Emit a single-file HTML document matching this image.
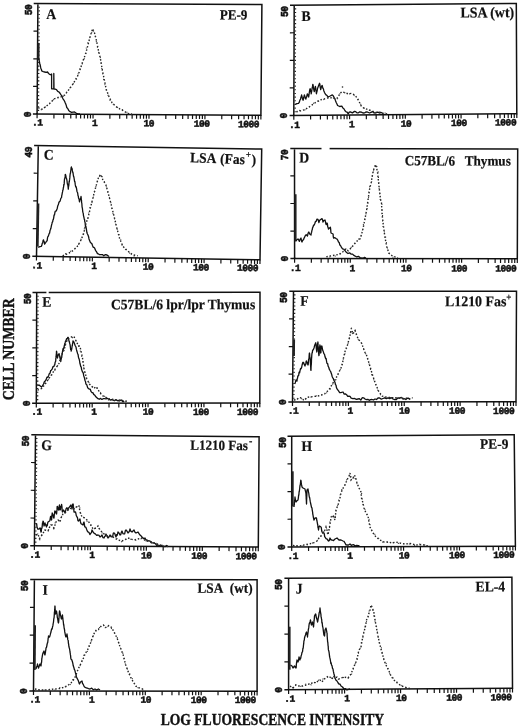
<!DOCTYPE html>
<html><head><meta charset="utf-8"><title>Flow cytometry histograms</title>
<style>
html,body{margin:0;padding:0;background:#fff;}
svg{display:block;filter:grayscale(1);}
.bx{fill:none;stroke:#111;stroke-width:1.5;stroke-linejoin:miter;}
.tk{fill:none;stroke:#111;stroke-width:1.2;}
.mt{fill:none;stroke:#222;stroke-width:1.1;}
.sp{fill:none;stroke:#222;stroke-width:2.0;}
.so{fill:none;stroke:#111;stroke-width:1.3;stroke-linejoin:round;}
.do2{fill:none;stroke:#333;stroke-width:1.1;stroke-dasharray:1 4.5;stroke-dashoffset:2;}
.do{fill:none;stroke:#222;stroke-width:1.4;stroke-dasharray:1.5 1.9;}
.zd{fill:#111;}
.n{font-family:"Liberation Mono",monospace;font-weight:bold;font-size:9.6px;letter-spacing:-0.5px;fill:#111;stroke:#111;stroke-width:0.5px;}
.l{font-family:"Liberation Serif",serif;font-weight:bold;font-size:13.7px;fill:#111;stroke:#111;stroke-width:0.2px;}
.sup{font-size:9px;}
.t{font-family:"Liberation Serif",serif;font-weight:bold;font-size:13.45px;fill:#111;stroke:#111;stroke-width:0.35px;}
</style></head>
<body><svg width="520" height="727" viewBox="0 0 520 727">
<rect width="520" height="727" fill="#fff"/>
<g id="pA"><path d="M33.7 3.48L261.9 4.5L260.9 115.2L32.9 114.08M37.9 3.5L37.1 114.1" class="bx"/>
<path d="M33.5 31.13L37.7 31.15M33.3 58.78L37.5 58.8M33.1 86.43L37.3 86.45M37.1 114.1l-0.02 4.2M53.94 114.18l-0.02 4.2M63.79 114.23l-0.02 4.2M70.79 114.27l-0.02 4.2M76.21 114.29l-0.02 4.2M80.64 114.31l-0.02 4.2M84.38 114.33l-0.02 4.2M87.63 114.35l-0.02 4.2M90.49 114.36l-0.02 4.2M93.05 114.37l-0.02 4.2M109.89 114.46l-0.02 4.2M119.74 114.51l-0.02 4.2M126.74 114.54l-0.02 4.2M132.16 114.57l-0.02 4.2M136.59 114.59l-0.02 4.2M140.33 114.61l-0.02 4.2M143.58 114.62l-0.02 4.2M146.44 114.64l-0.02 4.2M149 114.65l-0.02 4.2M165.84 114.73l-0.02 4.2M175.69 114.78l-0.02 4.2M182.69 114.82l-0.02 4.2M188.11 114.84l-0.02 4.2M192.54 114.86l-0.02 4.2M196.28 114.88l-0.02 4.2M199.53 114.9l-0.02 4.2M202.39 114.91l-0.02 4.2M204.95 114.93l-0.02 4.2M221.79 115.01l-0.02 4.2M231.64 115.06l-0.02 4.2M238.64 115.09l-0.02 4.2M244.06 115.12l-0.02 4.2M248.49 115.14l-0.02 4.2M252.23 115.16l-0.02 4.2M255.48 115.17l-0.02 4.2M258.34 115.19l-0.02 4.2M260.9 115.2l-0.02 4.2" class="tk"/>
<path d="M38.47 7.19h1.4M38.45 10.87h1.4M38.42 14.56h1.4M38.39 18.25h1.4M38.37 21.93h1.4M38.34 25.62h1.4M38.31 29.31h1.4M38.29 32.99h1.4M38.26 36.68h1.4M38.23 40.37h1.4M38.21 44.05h1.4M38.18 47.74h1.4M38.15 51.43h1.4M38.13 55.11h1.4M38.1 58.8h1.4M38.07 62.49h1.4M38.05 66.17h1.4M38.02 69.86h1.4M37.99 73.55h1.4M37.97 77.23h1.4M37.94 80.92h1.4M37.91 84.61h1.4M37.89 88.29h1.4M37.86 91.98h1.4M37.83 95.67h1.4M37.81 99.35h1.4M37.78 103.04h1.4M37.75 106.73h1.4M37.73 110.41h1.4" class="mt"/>
<path d="M38.61 43L38.49 60" class="sp"/>
<path class="so" d="M38.8 58.5L39.05 59.91L39.3 61.18L39.55 62.4L39.8 64L40.2 64.87L40.6 67.14L41 68.78L41.4 69.49L41.8 71L43.25 71.66L44.7 72L46.1 72.37L47.5 72L48.47 73.37L49.43 74.18L50.4 74.8L51.6 74L51.6 75.12L51.6 76.84L51.6 78.1L51.6 79.41L51.6 80.17L51.6 82.37L51.6 83.14L51.6 85.25L51.6 86.56L51.6 87.3L51.6 88.8L53.8 88.8L53.8 87.3L53.8 85.5L53.8 84.53L53.8 83.17L53.8 81.26L53.8 80.13L53.8 79.04L53.8 77.16L53.8 75.82L53.8 74.42L53.8 73.5L53.82 74.78L53.84 76.91L53.85 77.46L53.87 78.57L53.89 81.13L53.91 82.11L53.93 83.29L53.95 84.48L53.96 86.71L53.98 87.51L54 89L55.2 89.2L56.47 89.57L57.73 91.36L59 92L60 93.24L61 94.88L62 96L62.5 97.64L63 98.8L63.9 100.04L64.8 101.7L65.3 103.06L65.8 104.11L66.3 105.58L66.8 107.5L67.75 108.57L68.7 110.4L70.15 111.66L71.6 112.3L73.05 112.05L74.5 112L76.4 113.3L78.2 113.87L80 113.8"/>
<path class="do" d="M38.2 107.5L39.8 108.5L42.7 109.4L45.6 106.5L48.5 104.6L51.4 101.7L54.3 98.8L57.2 97.9L61 96.9L64.8 95L67.7 91.2L70.6 87.3L73.5 83.5L75.4 79.6L77.3 76.7L79.3 71.9L81.2 66.2L83.1 60.4L85 55.6L87 48.8L88.9 41.2L90.8 34.4L92.7 28.7L94.7 33.5L96.6 41.2L98.5 50.8L100.4 58.5L102.3 70L104.3 79.6L106.2 89.2L109.1 96.9L112 102.7L115.8 106.5L119.7 108.8L123.5 110.8L127.3 113.3L132 114"/>
<path class="do2" d="M37.79 107.82L39.88 109.31L42.63 110.12L46.13 106.19L48.17 104.87L50.75 102.68L53.71 99.48L56.6 97.17L61.55 97.4L64.65 95.44L67.41 90.61L70.4 87.42L73.09 83.68L76.19 79.85L77.66 76.97L78.68 70.9L81.29 66.87L83.81 59.82L85.77 55.17L86.34 47.81L88.68 40.09L91.09 34.79L92.6 29.24L95.04 34.3L96.21 41.14L98.35 51.58L100.69 58.66L101.98 69.65L103.61 79.85L105.73 88.37L108.97 97.79L111.26 103.43L115.8 105.33L118.95 109.06L124.02 109.75L128.01 113.04L132.04 114.94"/>
<g transform="rotate(0.26 37.1 114.1)"><text x="31.94" y="125.45" class="n">.1</text></g>
<g transform="rotate(0.26 93.05 114.37)"><text x="91.96" y="125.92" class="n">1</text></g>
<g transform="rotate(0.26 149 114.65)"><text x="143.56" y="126.4" class="n">10</text><circle cx="151.7" cy="123.18" r="0.75" class="zd"/></g>
<g transform="rotate(0.26 204.95 114.93)"><text x="193.87" y="126.88" class="n">100</text><circle cx="202.01" cy="123.66" r="0.75" class="zd"/><circle cx="207.27" cy="123.66" r="0.75" class="zd"/></g>
<g transform="rotate(0.26 260.9 115.2)"><text x="238.08" y="127.35" class="n">1000</text><circle cx="246.22" cy="124.13" r="0.75" class="zd"/><circle cx="251.48" cy="124.13" r="0.75" class="zd"/><circle cx="256.74" cy="124.13" r="0.75" class="zd"/></g>
<g transform="translate(31.7 0) rotate(-90) scale(1 1.15)"><text x="-15.32" y="0" class="n">50</text><circle cx="-7.18" cy="-3.22" r="0.75" class="zd"/></g>
<g transform="translate(30.6 0) rotate(-90) scale(1 1.15)"><text x="-117.13" y="0" class="n">0</text><circle cx="-114.25" cy="-3.22" r="0.75" class="zd"/></g>
<text x="46.3" y="19.1" class="l" transform="rotate(0.26 46.3 19.1) translate(0 -1.34) scale(1 1.07)">A</text>
<text x="247.4" y="19.6" class="l" style="font-size:13.16px" text-anchor="end" transform="rotate(0.26 247.4 19.6) translate(0 -1.37) scale(1 1.07)">PE-9</text></g>
<g id="pB"><path d="M290 5.23L516.3 3.4L516.8 113.8L289.6 115.53M294.2 5.2L293.8 115.5" class="bx"/>
<path d="M289.9 32.81L294.1 32.77M289.8 60.38L294 60.35M289.7 87.96L293.9 87.92M293.8 115.5l0.03 4.2M310.58 115.37l0.03 4.2M320.4 115.3l0.03 4.2M327.36 115.24l0.03 4.2M332.77 115.2l0.03 4.2M337.18 115.17l0.03 4.2M340.91 115.14l0.03 4.2M344.15 115.12l0.03 4.2M347 115.09l0.03 4.2M349.55 115.08l0.03 4.2M366.33 114.95l0.03 4.2M376.15 114.87l0.03 4.2M383.11 114.82l0.03 4.2M388.52 114.78l0.03 4.2M392.93 114.74l0.03 4.2M396.66 114.72l0.03 4.2M399.9 114.69l0.03 4.2M402.75 114.67l0.03 4.2M405.3 114.65l0.03 4.2M422.08 114.52l0.03 4.2M431.9 114.45l0.03 4.2M438.86 114.39l0.03 4.2M444.27 114.35l0.03 4.2M448.68 114.32l0.03 4.2M452.41 114.29l0.03 4.2M455.65 114.27l0.03 4.2M458.5 114.24l0.03 4.2M461.05 114.22l0.03 4.2M477.83 114.1l0.03 4.2M487.65 114.02l0.03 4.2M494.61 113.97l0.03 4.2M500.02 113.93l0.03 4.2M504.43 113.89l0.03 4.2M508.16 113.87l0.03 4.2M511.4 113.84l0.03 4.2M514.25 113.82l0.03 4.2M516.8 113.8l0.03 4.2" class="tk"/>
<path d="M294.79 8.88h1.4M294.77 12.55h1.4M294.76 16.23h1.4M294.75 19.91h1.4M294.73 23.58h1.4M294.72 27.26h1.4M294.71 30.94h1.4M294.69 34.61h1.4M294.68 38.29h1.4M294.67 41.97h1.4M294.65 45.64h1.4M294.64 49.32h1.4M294.63 53h1.4M294.61 56.67h1.4M294.6 60.35h1.4M294.59 64.03h1.4M294.57 67.7h1.4M294.56 71.38h1.4M294.55 75.06h1.4M294.53 78.73h1.4M294.52 82.41h1.4M294.51 86.09h1.4M294.49 89.76h1.4M294.48 93.44h1.4M294.47 97.12h1.4M294.45 100.79h1.4M294.44 104.47h1.4M294.43 108.15h1.4M294.41 111.82h1.4" class="mt"/>
<path class="so" d="M295.3 104.4L296.9 103.57L298.5 103.4L299.2 102.47L299.9 100.14L300.6 99.1L300.93 97.12L301.27 96.67L301.6 94.9L301.98 96.8L302.35 98.06L302.73 99.42L303.1 100.2L303.43 99.16L303.75 96.94L304.07 96.18L304.4 94.9L304.9 96.51L305.4 98.49L305.9 99.1L306.25 97.4L306.6 97.09L306.95 95.37L307.3 93.8L307.95 94.83L308.6 97L308.85 95.83L309.1 93.87L309.35 92.24L309.6 90.72L309.85 89.37L310.1 88.6L310.38 89.58L310.65 91.6L310.93 91.72L311.2 93.8L311.43 92.44L311.66 91.53L311.89 89.95L312.11 88.32L312.34 87.08L312.57 86.42L312.8 84.3L313.1 85.07L313.4 87.28L313.7 89.12L314 90.63L314.3 91.7L314.57 89.72L314.85 89.59L315.12 87.1L315.4 86.4L315.6 87.23L315.8 89.39L316 90.38L316.2 92L316.4 93.8L316.77 92.08L317.15 90.73L317.52 88.45L317.9 87.5L318.47 86.11L319.03 84.37L319.6 83.3L319.88 84.33L320.15 87.05L320.43 88.07L320.7 89.6L321.2 87.54L321.7 86.07L322.2 85.4L322.6 87.11L323 88.46L323.4 88.76L323.8 90.7L324.53 92.42L325.27 93.92L326 94.9L327.05 95.56L328.1 97L330.2 96L332.3 94.9L333.35 96.06L334.4 98.1L334.97 98.85L335.53 100.72L336.1 102.3L336.85 103.71L337.6 105.5L339.7 106.5L341.8 106.1L342.85 107.9L343.9 108.7L345 110.76L346.1 111.8L347.15 112.12L348.2 113.9L349.25 112.19L350.3 111.8L352.4 112.9L354.5 111.4L355.75 111.71L357 112.9L358.4 112.85L359.8 111.8L361.4 112.14L363 113L364.6 112.94L366.2 111.8L367.85 112.23L369.5 113L371 112.39L372.5 111.6L374 112.93L375.5 113L377.15 112.23L378.8 112.5L380.2 112.26L381.6 112.69L383 113.5"/>
<path class="do" d="M296.3 111.8L300.6 110.8L304.8 109.7L308 107.6L311.2 105.5L314.3 103.4L317.5 101.3L320.7 99.8L323.8 99.1L327 98.1L330.2 97.7L333.4 98.1L336.1 99.1L338.2 97L339.7 93.8L341.8 91.7L345 92.8L348.2 93.8L351.3 93.4L354.5 94.9L357.3 98.1L359.4 102.3L361.5 106.5L364 108.2L368.3 109.7L372.5 111.2L376.7 112.5L381 112.9L387.3 114"/>
<circle cx="342.5" cy="87" r="0.8" fill="#222"/>
<path class="do2" d="M295.74 111.43L301.28 109.84L304.69 109.94L307.55 108.06L311.76 105.52L314.03 102.58L317.24 101.69L321.49 100.44L324.15 99.45L326.21 97.08L329.49 98.52L333.13 97.97L336.66 100.08L338.81 97.12L340.07 93.18L341.48 92.5L345.18 92.89L347.46 94.7L350.9 93.32L354.37 95.82L356.65 97.64L359.42 101.92L362.07 106.48L363.25 107.93L368.16 109.46L372.78 112.14L376.83 113.2L381.24 112.44L386.8 113.28"/>
<g transform="rotate(-0.46 293.8 115.5)"><text x="288.94" y="127.9" class="n">.1</text></g>
<g transform="rotate(-0.46 349.55 115.08)"><text x="348.94" y="127.28" class="n">1</text></g>
<g transform="rotate(-0.46 405.3 114.65)"><text x="400.54" y="126.65" class="n">10</text><circle cx="408.68" cy="123.43" r="0.75" class="zd"/></g>
<g transform="rotate(-0.46 461.05 114.22)"><text x="450.83" y="126.03" class="n">100</text><circle cx="458.97" cy="122.81" r="0.75" class="zd"/><circle cx="464.23" cy="122.81" r="0.75" class="zd"/></g>
<g transform="rotate(-0.46 516.8 113.8)"><text x="495.03" y="125.4" class="n">1000</text><circle cx="503.17" cy="122.18" r="0.75" class="zd"/><circle cx="508.43" cy="122.18" r="0.75" class="zd"/><circle cx="513.69" cy="122.18" r="0.75" class="zd"/></g>
<g transform="translate(288 0) rotate(-90) scale(1 1.15)"><text x="-17.02" y="0" class="n">50</text><circle cx="-8.88" cy="-3.22" r="0.75" class="zd"/></g>
<g transform="translate(287.3 0) rotate(-90) scale(1 1.15)"><text x="-118.53" y="0" class="n">0</text><circle cx="-115.65" cy="-3.22" r="0.75" class="zd"/></g>
<text x="301.55" y="20.9" class="l" transform="rotate(-0.46 301.55 20.9) translate(0 -1.46) scale(1 1.07)">B</text>
<text x="514.2" y="17.2" class="l" style="font-size:13.94px" text-anchor="end" transform="rotate(-0.46 514.2 17.2) translate(0 -1.2) scale(1 1.07)">LSA (wt)</text></g>
<g id="pC"><path d="M34.1 145.54L261.7 149L260 259.8L32.3 256.24M38.3 145.6L36.5 256.3" class="bx"/>
<path d="M33.65 173.21L37.85 173.27M33.2 200.89L37.4 200.95M32.75 228.56L36.95 228.63M36.5 256.3l-0.06 4.2M53.32 256.56l-0.06 4.2M63.16 256.72l-0.06 4.2M70.14 256.83l-0.06 4.2M75.55 256.91l-0.06 4.2M79.98 256.98l-0.06 4.2M83.72 257.04l-0.06 4.2M86.96 257.09l-0.06 4.2M89.82 257.13l-0.06 4.2M92.38 257.18l-0.06 4.2M109.2 257.44l-0.06 4.2M119.03 257.59l-0.06 4.2M126.02 257.7l-0.06 4.2M131.43 257.79l-0.06 4.2M135.85 257.86l-0.06 4.2M139.59 257.91l-0.06 4.2M142.84 257.97l-0.06 4.2M145.69 258.01l-0.06 4.2M148.25 258.05l-0.06 4.2M165.07 258.31l-0.06 4.2M174.91 258.47l-0.06 4.2M181.89 258.58l-0.06 4.2M187.3 258.66l-0.06 4.2M191.73 258.73l-0.06 4.2M195.47 258.79l-0.06 4.2M198.71 258.84l-0.06 4.2M201.57 258.88l-0.06 4.2M204.12 258.93l-0.06 4.2M220.95 259.19l-0.06 4.2M230.78 259.34l-0.06 4.2M237.77 259.45l-0.06 4.2M243.18 259.54l-0.06 4.2M247.6 259.61l-0.06 4.2M251.34 259.66l-0.06 4.2M254.59 259.72l-0.06 4.2M257.44 259.76l-0.06 4.2M260 259.8l-0.06 4.2" class="tk"/>
<path d="M38.36 203.6L37.66 246.6" class="sp"/>
<path class="so" d="M38.2 247.3L39.8 246.64L41.4 246.3L41.82 245.28L42.24 243.32L42.66 243.03L43.08 240.49L43.5 239.9L43.87 241.04L44.23 241.76L44.6 244.1L45.65 242.7L46.7 241L47.12 240.83L47.54 237.61L47.96 236.34L48.38 236.1L48.8 234.6L49.22 233.43L49.64 232.95L50.06 230.33L50.48 229.51L50.9 228.3L51.25 226.51L51.6 224.96L51.95 223.68L52.3 222L52.65 221.88L53 219.8L53.37 219.47L53.73 217.58L54.1 214.83L54.47 215.02L54.83 213.01L55.2 211.3L56.25 210.9L57.3 208.2L57.72 205.9L58.14 204.98L58.56 203.78L58.98 202.28L59.4 201.8L60.1 201.11L60.8 198.33L61.5 197.6L61.76 195.51L62.02 194.58L62.29 192.89L62.55 191.91L62.81 190.1L63.08 189.98L63.34 187.69L63.6 187L63.79 184.46L63.98 185.09L64.17 183.9L64.36 180.71L64.54 178.92L64.73 178.61L64.92 177.84L65.11 176.65L65.3 174.3L65.67 175.05L66.05 177.13L66.42 178.25L66.8 179.6L67.01 180.84L67.23 183L67.44 184.22L67.66 184.02L67.87 185.37L68.09 187L68.3 189.1L68.47 186.55L68.64 186.36L68.81 185.41L68.98 183.37L69.15 181.42L69.32 181.83L69.49 180.02L69.66 179.14L69.83 177.65L70 175.4L70.23 173.58L70.47 173.15L70.7 171.38L70.93 169.63L71.17 167.51L71.4 166.9L71.74 168.51L72.08 168.52L72.42 170.66L72.76 172.31L73.1 173.3L73.34 175.21L73.59 176.56L73.83 176.58L74.08 178.24L74.32 179.68L74.57 181.41L74.81 181.29L75.06 182.9L75.3 184.9L75.72 186.75L76.14 186.71L76.56 188.7L76.98 191.44L77.4 192.3L77.7 193.21L78 195.62L78.3 196.07L78.6 198.33L78.9 198.39L79.2 199.83L79.5 201.8L79.88 199.31L80.25 199.67L80.62 198.75L81 196.5L81.15 197.22L81.31 199.73L81.46 199.9L81.62 202.71L81.77 202.99L81.93 204.8L82.08 207.07L82.24 207.61L82.39 208.22L82.55 209.7L82.7 211.3L82.96 212.46L83.22 213.28L83.49 215.56L83.75 216.61L84.01 217.74L84.28 219.37L84.54 219.41L84.8 221.9L85.06 222.23L85.33 225.23L85.59 226.82L85.85 226.2L86.11 227.57L86.38 229.08L86.64 230.8L86.9 232.5L87.32 233.72L87.74 234.57L88.16 235.57L88.58 236.68L89 238.9L89.7 240.67L90.4 242.41L91.1 243.1L91.8 243.55L92.5 245.53L93.2 247.3L94 247.28L94.8 248.47L95.6 250.6L96.4 251.5L97.47 253.62L98.53 253.96L99.6 254.7L101 254.66L102.4 254.57L103.8 255.8L105.4 254.57L107 255L109 256.5"/>
<path class="do" d="M62.6 255.8L67.8 253.7L73.1 250.5L77.4 246.3L80.5 241L83.7 233.6L85.8 224L88 217.7L90.1 209.2L92.2 200.8L94.3 192.3L96.4 184.9L98.5 177.5L100.6 174.3L102.8 179.6L105.9 184.9L108 192.3L110.2 200.8L112.3 209.2L114.4 217.7L116.9 228.3L119.7 238.9L122.9 246.3L127.1 250.5L132.4 254.7L137.7 255.8"/>
<path class="do2" d="M61.91 255.11L67.48 253.01L73.19 249.85L77.44 246.47L80.04 241.81L82.93 234.72L85.62 223.52L87.88 218.32L89.45 208.82L92.53 201.08L94.67 191.3L96.54 183.99L98.02 178.33L101.09 174.14L103.31 179.51L105.8 184.6L107.61 191.66L110.58 200.9L111.55 208.64L114.36 218.27L116.33 227.23L120.25 237.77L122.28 245.87L126.76 250.82L133.12 255.84L137.73 256.85"/>
<g transform="rotate(0.87 36.5 256.3)"><text x="31.44" y="268.45" class="n">.1</text></g>
<g transform="rotate(0.87 92.38 257.18)"><text x="91.38" y="269.14" class="n">1</text></g>
<g transform="rotate(0.87 148.25 258.05)"><text x="142.91" y="269.82" class="n">10</text><circle cx="151.05" cy="266.61" r="0.75" class="zd"/></g>
<g transform="rotate(0.87 204.12 258.93)"><text x="193.15" y="270.51" class="n">100</text><circle cx="201.29" cy="267.3" r="0.75" class="zd"/><circle cx="206.55" cy="267.3" r="0.75" class="zd"/></g>
<g transform="rotate(0.87 260 259.8)"><text x="237.28" y="271.2" class="n">1000</text><circle cx="245.42" cy="267.98" r="0.75" class="zd"/><circle cx="250.68" cy="267.98" r="0.75" class="zd"/><circle cx="255.94" cy="267.98" r="0.75" class="zd"/></g>
<g transform="translate(32.1 0) rotate(-90) scale(1 1.15)"><text x="-157.42" y="0" class="n">49</text></g>
<g transform="translate(30 0) rotate(-90) scale(1 1.15)"><text x="-259.33" y="0" class="n">0</text><circle cx="-256.45" cy="-3.22" r="0.75" class="zd"/></g>
<text x="43.8" y="159.6" class="l" transform="rotate(0.87 43.8 159.6) translate(0 -11.17) scale(1 1.07)">C</text>
<text x="190.1" y="162.3" class="l" style="font-size:13.45px" text-anchor="start" transform="rotate(2 190.1 162.3) translate(0 -11.36) scale(1 1.07)">LSA <tspan dx="1.2">(Fas</tspan><tspan class="sup" dx="1.0" dy="-6.3">+</tspan><tspan dx="0.8" dy="6.3">)</tspan></text></g>
<g id="pD"><path d="M290.3 148.39L517.7 149L517.3 258.7L290.4 258.59M294.5 148.4L294.6 258.6" class="bx"/>
<rect x="321.5" y="146.4" width="8.1" height="4" fill="#fff"/>
<path d="M290.33 175.94L294.52 175.95M290.35 203.49L294.55 203.5M290.38 231.04L294.58 231.05M294.6 258.6l-0.01 4.2M311.36 258.61l-0.01 4.2M321.16 258.61l-0.01 4.2M328.12 258.62l-0.01 4.2M333.52 258.62l-0.01 4.2M337.92 258.62l-0.01 4.2M341.65 258.62l-0.01 4.2M344.88 258.62l-0.01 4.2M347.73 258.62l-0.01 4.2M350.27 258.62l-0.01 4.2M367.03 258.63l-0.01 4.2M376.84 258.64l-0.01 4.2M383.79 258.64l-0.01 4.2M389.19 258.64l-0.01 4.2M393.6 258.64l-0.01 4.2M397.33 258.65l-0.01 4.2M400.55 258.65l-0.01 4.2M403.4 258.65l-0.01 4.2M405.95 258.65l-0.01 4.2M422.71 258.66l-0.01 4.2M432.51 258.66l-0.01 4.2M439.47 258.67l-0.01 4.2M444.87 258.67l-0.01 4.2M449.27 258.67l-0.01 4.2M453 258.67l-0.01 4.2M456.23 258.67l-0.01 4.2M459.08 258.67l-0.01 4.2M461.62 258.67l-0.01 4.2M478.38 258.68l-0.01 4.2M488.19 258.69l-0.01 4.2M495.14 258.69l-0.01 4.2M500.54 258.69l-0.01 4.2M504.95 258.69l-0.01 4.2M508.68 258.7l-0.01 4.2M511.9 258.7l-0.01 4.2M514.75 258.7l-0.01 4.2M517.3 258.7l-0.01 4.2" class="tk"/>
<path d="M295.54 194.2L295.58 241.4" class="sp"/>
<path class="so" d="M296 240.8L297 239.61L298 239L298.7 239.89L299.4 241.4L300.2 239.15L301 238L301.33 239.78L301.67 241.48L302 242L302.7 240.12L303.4 239.98L304.1 238.1L304.8 236.67L305.5 235.2L306.2 234.7L307.5 236L307.93 233.79L308.37 232.65L308.8 232L309.9 234.18L311 235L311.32 232.95L311.63 232.15L311.95 230.26L312.27 229.66L312.58 227.62L312.9 227.3L313.57 225.18L314.23 225.01L314.9 223.3L315.57 221.33L316.23 221.41L316.9 219.2L318 219.5L318.45 220.49L318.9 222.6L319.45 220.7L320 220L322 218.6L322.5 219.67L323 222L324 220.34L325 220L325.43 221.66L325.87 223.85L326.3 224.6L327 223L327.38 223.58L327.75 226.96L328.12 227.5L328.5 229L330.4 227.3L330.55 228.44L330.7 229.54L330.85 231.59L331 233L333.1 234L333.23 236.3L333.37 236.93L333.5 238L334.95 237.66L336.4 238.7L337.1 239.07L337.8 240.26L338.5 242.1L339.17 242.31L339.83 244.98L340.5 245.5L341.5 247.46L342.5 248.8L343.85 249.1L345.2 250.9L346.6 252.58L348 253.5L349.6 252.85L351.2 254.2L352.57 254.1L353.93 255.41L355.3 256.2L356.87 256.98L358.43 256.4L360 257.5L361.5 258L363 258.24L364.5 257.43L366 258"/>
<path class="do" d="M326.3 256.9L330 256L336 255L339.8 254.2L343.2 251.5L346 249L348.1 250.9L352 247L355 243.2L358 240L360.4 238.6L362.7 230.1L364.3 222.4L366.6 210.1L368.1 199.3L369.7 188.5L371.2 182.4L372.8 173.1L374 168.5L375.8 164.6L377.5 172L378.9 185.4L380.5 199.3L381.5 203L382 213.2L383.2 224L384.8 236.3L386.6 246.3L388.9 253.2L392.8 256.3L398 257.8"/>
<path class="do2" d="M325.8 257.25L329.99 256.98L336.64 255.84L340.53 253.07L343.89 250.65L345.46 248.09L348.12 250.86L352.06 246.17L355.23 242.83L358.62 239.06L360.32 239.04L362.6 229.41L363.62 223.2L366.72 210.84L368.48 199.75L368.99 188.12L371.36 183.55L372.67 174.05L373.92 169.43L376.1 163.51L378.11 171.54L378.98 186.49L380.29 199.52L381.84 204.11L382.56 214.09L382.54 224.85L385.39 235.68L387.07 247L388.88 252.87L393.02 257.23L398 257.27"/>
<g transform="rotate(0.15 294.6 258.6)"><text x="289.74" y="271.1" class="n">.1</text></g>
<g transform="rotate(0.15 350.27 258.62)"><text x="349.61" y="271.22" class="n">1</text></g>
<g transform="rotate(0.15 405.95 258.65)"><text x="401.06" y="271.35" class="n">10</text><circle cx="409.2" cy="268.13" r="0.75" class="zd"/></g>
<g transform="rotate(0.15 461.62 258.67)"><text x="451.22" y="271.47" class="n">100</text><circle cx="459.36" cy="268.26" r="0.75" class="zd"/><circle cx="464.62" cy="268.26" r="0.75" class="zd"/></g>
<g transform="rotate(0.15 517.3 258.7)"><text x="495.28" y="271.6" class="n">1000</text><circle cx="503.42" cy="268.38" r="0.75" class="zd"/><circle cx="508.68" cy="268.38" r="0.75" class="zd"/><circle cx="513.94" cy="268.38" r="0.75" class="zd"/></g>
<g transform="translate(288.3 0) rotate(-90) scale(1 1.15)"><text x="-160.22" y="0" class="n">70</text><circle cx="-152.08" cy="-3.22" r="0.75" class="zd"/></g>
<g transform="translate(288.1 0) rotate(-90) scale(1 1.15)"><text x="-261.63" y="0" class="n">0</text><circle cx="-258.75" cy="-3.22" r="0.75" class="zd"/></g>
<text x="299.15" y="162.5" class="l" transform="rotate(0.15 299.15 162.5) translate(0 -11.38) scale(1 1.07)">D</text>
<text x="510.8" y="165.6" class="l" style="font-size:13.17px" text-anchor="end" transform="rotate(0.15 510.8 165.6) translate(0 -11.59) scale(1 1.07)">C57BL/6&#160;&#160; Thymus</text></g>
<g id="pE"><path d="M32.5 292.5L260 292.3L259.8 403L32.1 403.3M36.7 292.5L36.3 403.3" class="bx"/>
<rect x="46.4" y="290.5" width="2.3" height="4" fill="#fff"/>
<path d="M32.4 320.2L36.6 320.2M32.3 347.9L36.5 347.9M32.2 375.6L36.4 375.6M36.3 403.3l0 4.2M53.12 403.28l0 4.2M62.96 403.26l0 4.2M69.94 403.25l0 4.2M75.35 403.25l0 4.2M79.78 403.24l0 4.2M83.52 403.24l0 4.2M86.76 403.23l0 4.2M89.62 403.23l0 4.2M92.17 403.23l0 4.2M109 403.2l0 4.2M118.83 403.19l0 4.2M125.82 403.18l0 4.2M131.23 403.17l0 4.2M135.65 403.17l0 4.2M139.39 403.16l0 4.2M142.64 403.16l0 4.2M145.49 403.15l0 4.2M148.05 403.15l0 4.2M164.87 403.13l0 4.2M174.71 403.11l0 4.2M181.69 403.1l0 4.2M187.1 403.1l0 4.2M191.53 403.09l0 4.2M195.27 403.09l0 4.2M198.51 403.08l0 4.2M201.37 403.08l0 4.2M203.93 403.07l0 4.2M220.75 403.05l0 4.2M230.58 403.04l0 4.2M237.57 403.03l0 4.2M242.98 403.02l0 4.2M247.4 403.02l0 4.2M251.14 403.01l0 4.2M254.39 403.01l0 4.2M257.24 403l0 4.2M259.8 403l0 4.2" class="tk"/>
<path d="M37.29 296.19h1.4M37.27 299.89h1.4M37.26 303.58h1.4M37.25 307.27h1.4M37.23 310.97h1.4M37.22 314.66h1.4M37.21 318.35h1.4M37.19 322.05h1.4M37.18 325.74h1.4M37.17 329.43h1.4M37.15 333.13h1.4M37.14 336.82h1.4M37.13 340.51h1.4M37.11 344.21h1.4M37.1 347.9h1.4M37.09 351.59h1.4M37.07 355.29h1.4M37.06 358.98h1.4M37.05 362.67h1.4M37.03 366.37h1.4M37.02 370.06h1.4M37.01 373.75h1.4M36.99 377.45h1.4M36.98 381.14h1.4M36.97 384.83h1.4M36.95 388.53h1.4M36.94 392.22h1.4M36.93 395.91h1.4M36.91 399.61h1.4" class="mt"/>
<path class="so" d="M37.5 385.8L39 385L40.9 386.6L42.2 386.28L43.5 384L44.37 381.75L45.23 381.03L46.1 379.7L46.97 377.1L47.83 377.44L48.7 375.4L49.35 373.49L50 373.25L50.65 370.65L51.3 370.2L52.17 369.06L53.03 366.57L53.9 366.7L54.33 365.04L54.75 364.84L55.17 362.2L55.6 361.5L55.71 360.92L55.83 358.32L55.94 357.88L56.05 355.91L56.16 356.29L56.27 354.3L56.39 353.66L56.5 351.1L56.68 351.63L56.86 353.97L57.04 355.46L57.22 355.33L57.4 358L57.97 355.82L58.53 354.14L59.1 353.7L59.38 355.13L59.67 356.09L59.95 358.15L60.23 357.71L60.52 360.41L60.8 361.5L61.02 359.73L61.25 358.94L61.48 357.85L61.7 357.4L61.92 355.51L62.15 354.08L62.38 352.11L62.6 351.1L63.02 348.56L63.45 349.43L63.88 347.51L64.3 346L64.72 343.85L65.15 342.73L65.58 340.81L66 340.8L66.6 338.68L67.2 338.92L67.8 337.3L68.22 337.39L68.65 338.85L69.08 341.32L69.5 342.5L69.78 343.73L70.07 344.64L70.35 346.91L70.63 349.33L70.92 348.4L71.2 351.1L71.42 349.98L71.65 349.29L71.88 347.95L72.1 346.28L72.33 345.56L72.55 343.89L72.78 342.81L73 340.8L73.85 341.85L74.7 344.2L75.12 345.42L75.55 346.31L75.98 346.89L76.4 349.4L76.83 351.07L77.25 352.33L77.67 353.78L78.1 354.6L78.4 356.86L78.7 358.12L79 358.62L79.3 359.62L79.6 361.11L79.9 363.3L80.33 364.73L80.77 366.53L81.2 366.97L81.63 369.6L82.07 370.82L82.5 372L82.92 372.05L83.35 373.55L83.78 375.93L84.2 377.1L84.54 378.2L84.88 380.01L85.22 381.01L85.56 381.8L85.9 384L86.78 384.73L87.65 387.66L88.53 388.43L89.4 389.2L90.26 389.19L91.12 391.68L91.98 392.6L92.84 392.61L93.7 394.4L94.78 395.16L95.85 396.79L96.92 397.66L98 398.7L99.3 399.23L100.6 398.42L101.9 399.43L103.2 398.7L104.6 398.71L106 398.79L107.4 398.33L108.8 399.24L110.2 400L111.58 399.74L112.96 400.09L114.34 400.56L115.72 399.93L117.1 400.5L118.48 400.74L119.86 400.69L121.24 399.9L122.62 401.56L124 401.5"/>
<path class="do" d="M37.5 390.1L41.8 388.4L45.2 384L48.7 378.8L52.2 373.6L55.6 368.4L59.1 363.3L61.7 354.6L64.3 349.4L66 342.5L67.8 339L70.3 337.3L73.8 336.4L76.4 341.6L78.6 346L79.9 346L82.5 358L84.2 370L86.8 378.8L89.4 384L93.7 388.4L96.3 386.6L99.8 392.7L103.2 396.1L108.4 398.7L115.3 399.6L122.3 400.5L128 401.5"/>
<path class="do2" d="M37.95 389.45L42.05 387.4L44.63 383.64L48.38 379.48L52.62 373.9L55.88 368.59L59.41 362.55L61.56 354.5L64.3 349.92L66.15 342.86L68.41 339.92L70.88 337.78L73.81 337.59L75.91 340.69L78.61 346.25L79.23 346.96L82.49 359.1L84.02 368.93L86.62 379.74L89.95 383.83L93.5 387.58L96.18 387.1L100.41 392.32L103.67 395.3L108.33 399.88L115.54 400.77L121.75 401.09L127.6 402"/>
<g transform="rotate(-0.05 36.3 403.3)"><text x="31.34" y="414.85" class="n">.1</text></g>
<g transform="rotate(-0.05 92.17 403.23)"><text x="91.26" y="414.86" class="n">1</text></g>
<g transform="rotate(-0.05 148.05 403.15)"><text x="142.77" y="414.87" class="n">10</text><circle cx="150.91" cy="411.66" r="0.75" class="zd"/></g>
<g transform="rotate(-0.05 203.93 403.07)"><text x="192.97" y="414.89" class="n">100</text><circle cx="201.11" cy="411.67" r="0.75" class="zd"/><circle cx="206.37" cy="411.67" r="0.75" class="zd"/></g>
<g transform="rotate(-0.05 259.8 403)"><text x="237.08" y="414.9" class="n">1000</text><circle cx="245.22" cy="411.68" r="0.75" class="zd"/><circle cx="250.48" cy="411.68" r="0.75" class="zd"/><circle cx="255.74" cy="411.68" r="0.75" class="zd"/></g>
<g transform="translate(30.5 0) rotate(-90) scale(1 1.15)"><text x="-304.32" y="0" class="n">50</text><circle cx="-296.18" cy="-3.22" r="0.75" class="zd"/></g>
<g transform="translate(29.8 0) rotate(-90) scale(1 1.15)"><text x="-406.33" y="0" class="n">0</text><circle cx="-403.45" cy="-3.22" r="0.75" class="zd"/></g>
<text x="42.2" y="306.8" class="l" transform="rotate(-0.05 42.2 306.8) translate(0 -21.48) scale(1 1.07)">E</text>
<text x="255.2" y="309.2" class="l" style="font-size:13.58px" text-anchor="end" transform="rotate(-0.05 255.2 309.2) translate(0 -21.64) scale(1 1.07)">C57BL/6 lpr/lpr Thymus</text></g>
<g id="pF"><path d="M289.3 291.2L516.5 291.3L516 401.7L288.3 401.9M293.5 291.2L292.5 401.9" class="bx"/>
<path d="M289.05 318.87L293.25 318.88M288.8 346.55L293 346.55M288.55 374.22L292.75 374.22M292.5 401.9l-0 4.2M309.32 401.88l-0 4.2M319.16 401.88l-0 4.2M326.14 401.87l-0 4.2M331.55 401.87l-0 4.2M335.98 401.86l-0 4.2M339.72 401.86l-0 4.2M342.96 401.85l-0 4.2M345.82 401.85l-0 4.2M348.38 401.85l-0 4.2M365.2 401.83l-0 4.2M375.03 401.83l-0 4.2M382.02 401.82l-0 4.2M387.43 401.82l-0 4.2M391.85 401.81l-0 4.2M395.59 401.81l-0 4.2M398.84 401.8l-0 4.2M401.69 401.8l-0 4.2M404.25 401.8l-0 4.2M421.07 401.78l-0 4.2M430.91 401.78l-0 4.2M437.89 401.77l-0 4.2M443.3 401.77l-0 4.2M447.73 401.76l-0 4.2M451.47 401.76l-0 4.2M454.71 401.75l-0 4.2M457.57 401.75l-0 4.2M460.12 401.75l-0 4.2M476.95 401.73l-0 4.2M486.78 401.73l-0 4.2M493.77 401.72l-0 4.2M499.18 401.72l-0 4.2M503.6 401.71l-0 4.2M507.34 401.71l-0 4.2M510.59 401.7l-0 4.2M513.44 401.7l-0 4.2M516 401.7l-0 4.2" class="tk"/>
<path d="M294.07 294.89h1.4M294.03 298.58h1.4M294 302.27h1.4M293.97 305.96h1.4M293.93 309.65h1.4M293.9 313.34h1.4M293.87 317.03h1.4M293.83 320.72h1.4M293.8 324.41h1.4M293.77 328.1h1.4M293.73 331.79h1.4M293.7 335.48h1.4M293.67 339.17h1.4M293.63 342.86h1.4M293.6 346.55h1.4M293.57 350.24h1.4M293.53 353.93h1.4M293.5 357.62h1.4M293.47 361.31h1.4M293.43 365h1.4M293.4 368.69h1.4M293.37 372.38h1.4M293.33 376.07h1.4M293.3 379.76h1.4M293.27 383.45h1.4M293.23 387.14h1.4M293.2 390.83h1.4M293.17 394.52h1.4M293.13 398.21h1.4" class="mt"/>
<path d="M294.06 340L293.91 356" class="sp"/>
<path class="so" d="M294.7 383.8L295.13 383.06L295.57 381.59L296 379.8L297 381L297.27 378.55L297.55 378.15L297.83 375.81L298.1 375.8L298.6 375.56L299.1 372.14L299.6 372.79L300.1 370.4L300.6 368.51L301.1 368.78L301.6 367.59L302.1 365L302.8 362.47L303.5 362.3L304 363.88L304.5 364.96L305 366L305.38 364.34L305.75 364.36L306.12 361.31L306.5 361L307 362.58L307.5 363.7L308 365L308.2 364.43L308.4 362.39L308.6 359.35L308.8 358.9L308.98 358.67L309.15 355.75L309.32 353.57L309.5 353L309.64 354.1L309.78 356.61L309.92 358.36L310.06 357.46L310.2 360L310.29 360.99L310.38 362.39L310.46 363.54L310.55 364.68L310.64 365.84L310.72 367.74L310.81 370.13L310.9 370.4L310.98 370.23L311.06 367.43L311.15 365.69L311.23 365.11L311.31 364.36L311.39 363.23L311.47 360.33L311.55 358.3L311.64 357.73L311.72 356.26L311.8 355L312.07 352.83L312.33 352.65L312.6 350.2L313.3 349.9L314 348L314.45 346.27L314.9 344.8L315.8 342.8L315.94 344.1L316.09 344.24L316.23 347.48L316.37 348.83L316.51 350.02L316.66 350.73L316.8 352L316.96 351.08L317.11 348.8L317.27 348.22L317.43 346.33L317.59 344.15L317.74 343.47L317.9 342L318 342.54L318.1 345.89L318.2 346.75L318.3 348.4L318.4 349.38L318.5 350.86L318.6 351.85L318.7 354.07L318.8 354.65L318.9 355.6L319.02 355.2L319.15 354.15L319.27 351.49L319.4 350.18L319.52 348.84L319.65 346.77L319.77 346.48L319.9 345L320.03 345.38L320.17 346.55L320.3 348.09L320.43 351.05L320.57 352.11L320.7 353L320.88 352.74L321.06 349.06L321.24 348.04L321.42 346.43L321.6 346L321.93 346.12L322.27 348.14L322.6 350L323.27 351.6L323.93 353.7L324.6 354.6L324.98 356.51L325.36 357.72L325.74 358.87L326.12 358.45L326.5 361L326.9 363.18L327.3 363.68L327.7 363.69L328.1 366.2L328.73 367.23L329.37 369.46L330 370.5L330.53 371.33L331.07 372.74L331.6 374.2L332.17 376.52L332.73 377.85L333.3 378.5L333.87 380.22L334.43 381.26L335 382.4L335.48 384.74L335.96 384.97L336.44 387.59L336.92 388.84L337.4 389.3L338.53 390.93L339.67 392.56L340.8 392.7L343 392L344.2 394.07L345.4 393.9L346.57 394.73L347.73 396.36L348.9 396.2L350.03 396.48L351.17 398.12L352.3 398.5L353 398.6L354.67 398.47L356.33 399.41L358 399L359.4 398.7L360.8 400.11L362.2 397.77L363.6 397.78L365 399L366.4 399.7L367.8 399.3L369.2 400.29L370.6 399.7L372 399.5L373.5 399.99L375 399L376.5 399.48L378 398L379.67 397.95L381.33 399.18L383 398.5L384.67 397.86L386.33 398.66L388 397.8L389.67 398.6L391.33 397.69L393 399L394.67 399.58L396.33 399.48L398 397.8L399.67 398.11L401.33 397.39L403 399L404.4 398.76L405.8 399.56L407.2 398.3L408.6 398.2L410 399.5"/>
<path class="do" d="M294 400L296.9 399.6L299 397.5L301.5 398L304 400.5L307.3 397.3L313.1 396.6L318.8 395.8L324.6 393.9L329.2 389.3L332.7 383.5L335 380L337.4 375.4L339.5 371L341.9 366.2L343.5 358L345.4 350L347.5 345L349.8 336.6L351.3 328.5L353 334L355.1 330.6L356.9 336.2L359 340L361.5 343.1L364.9 352.3L366.5 355L368.5 361.5L370.2 367L371.9 373.1L375.4 383.5L378.8 391.6L382.3 396.2L386.9 397.3L396.2 398L405.4 398.5L412 399"/>
<path class="do2" d="M293.69 400.29L296.73 399.6L299.25 397.16L301.4 398.44L303.57 400.48L307.09 397.79L313.59 396.59L318.8 395.26L324.76 394.42L329.94 390.22L332.48 384.36L335.49 381.11L337.14 376.25L339.42 372.06L341.27 366.78L343.61 357.86L345.97 350.76L347.2 346.2L349.87 336.11L351.39 327.65L352.55 334.39L355.54 329.67L357.12 336.52L358.71 340.37L361.36 342.67L365.33 353.22L366.76 355.57L368.6 362.61L370.06 366.43L371.13 373.57L375.49 383.93L378.59 392.49L381.94 396.8L386.23 397.55L396.09 397.64L405.33 397.76L412.77 397.88"/>
<g transform="rotate(0.03 292.5 401.9)"><text x="287.84" y="413.75" class="n">.1</text></g>
<g transform="rotate(0.03 348.38 401.85)"><text x="347.64" y="413.79" class="n">1</text></g>
<g transform="rotate(0.03 404.25 401.8)"><text x="399.04" y="413.82" class="n">10</text><circle cx="407.18" cy="410.61" r="0.75" class="zd"/></g>
<g transform="rotate(0.03 460.12 401.75)"><text x="449.13" y="413.86" class="n">100</text><circle cx="457.27" cy="410.65" r="0.75" class="zd"/><circle cx="462.53" cy="410.65" r="0.75" class="zd"/></g>
<g transform="rotate(0.03 516 401.7)"><text x="493.13" y="413.9" class="n">1000</text><circle cx="501.27" cy="410.68" r="0.75" class="zd"/><circle cx="506.53" cy="410.68" r="0.75" class="zd"/><circle cx="511.79" cy="410.68" r="0.75" class="zd"/></g>
<g transform="translate(287.3 0) rotate(-90) scale(1 1.15)"><text x="-303.02" y="0" class="n">50</text><circle cx="-294.88" cy="-3.22" r="0.75" class="zd"/></g>
<g transform="translate(286 0) rotate(-90) scale(1 1.15)"><text x="-404.93" y="0" class="n">0</text><circle cx="-402.05" cy="-3.22" r="0.75" class="zd"/></g>
<text x="300.2" y="305.8" class="l" transform="rotate(0.03 300.2 305.8) translate(0 -21.41) scale(1 1.07)">F</text>
<text x="511.3" y="306.2" class="l" style="font-size:13.94px" text-anchor="end" transform="rotate(0.03 511.3 306.2) translate(0 -21.43) scale(1 1.07)">L1210 Fas<tspan class="sup" dx="-0.3" dy="-5.6">+</tspan></text></g>
<g id="pG"><path d="M31.3 434.76L259.1 436.7L258.3 547.1L30.2 545.76M35.5 434.8L34.4 545.8" class="bx"/>
<path d="M31.03 462.51L35.23 462.55M30.75 490.26L34.95 490.3M30.48 518.01L34.67 518.05M34.4 545.8l-0.04 4.2M51.25 545.9l-0.04 4.2M61.11 545.96l-0.04 4.2M68.1 546l-0.04 4.2M73.52 546.03l-0.04 4.2M77.96 546.05l-0.04 4.2M81.7 546.07l-0.04 4.2M84.95 546.09l-0.04 4.2M87.81 546.11l-0.04 4.2M90.38 546.12l-0.04 4.2M107.23 546.22l-0.04 4.2M117.08 546.28l-0.04 4.2M124.08 546.32l-0.04 4.2M129.5 546.35l-0.04 4.2M133.93 546.38l-0.04 4.2M137.68 546.4l-0.04 4.2M140.93 546.42l-0.04 4.2M143.79 546.44l-0.04 4.2M146.35 546.45l-0.04 4.2M163.2 546.55l-0.04 4.2M173.06 546.61l-0.04 4.2M180.05 546.65l-0.04 4.2M185.47 546.68l-0.04 4.2M189.91 546.7l-0.04 4.2M193.65 546.72l-0.04 4.2M196.9 546.74l-0.04 4.2M199.76 546.76l-0.04 4.2M202.33 546.78l-0.04 4.2M219.18 546.87l-0.04 4.2M229.03 546.93l-0.04 4.2M236.03 546.97l-0.04 4.2M241.45 547l-0.04 4.2M245.88 547.03l-0.04 4.2M249.63 547.05l-0.04 4.2M252.88 547.07l-0.04 4.2M255.74 547.09l-0.04 4.2M258.3 547.1l-0.04 4.2" class="tk"/>
<path d="M36.06 438.5h1.4M36.03 442.2h1.4M35.99 445.9h1.4M35.95 449.6h1.4M35.92 453.3h1.4M35.88 457h1.4M35.84 460.7h1.4M35.81 464.4h1.4M35.77 468.1h1.4M35.73 471.8h1.4M35.7 475.5h1.4M35.66 479.2h1.4M35.62 482.9h1.4M35.59 486.6h1.4M35.55 490.3h1.4M35.51 494h1.4M35.48 497.7h1.4M35.44 501.4h1.4M35.4 505.1h1.4M35.37 508.8h1.4M35.33 512.5h1.4M35.29 516.2h1.4M35.26 519.9h1.4M35.22 523.6h1.4M35.18 527.3h1.4M35.15 531h1.4M35.11 534.7h1.4M35.07 538.4h1.4M35.04 542.1h1.4" class="mt"/>
<path class="so" d="M36.4 523.2L36.7 524.11L37 527L37.85 529.2L38.7 529.2L40 528L40.33 528.08L40.67 530.55L41 532L41.25 531.9L41.5 528.38L41.75 528.39L42 527.8L42.25 525.75L42.5 522.83L42.75 523.55L43 521.1L43.33 521.49L43.67 523.9L44 526L44.5 524.8L45 523L45.5 524.96L46 525.57L46.5 527L46.88 524.71L47.25 525.71L47.62 523.46L48 522L49.5 521L49.87 520.57L50.23 518.33L50.6 516.4L51.05 517.21L51.5 520L51.64 519.72L51.78 516.27L51.92 514.86L52.06 515.17L52.2 513L52.65 514.06L53.1 515.52L53.55 517.93L54 518L54.18 515.84L54.36 514.01L54.54 513.93L54.72 511.73L54.9 511L55.7 511.99L56.5 514L56.66 513.29L56.82 511.3L56.98 509.9L57.14 506.7L57.3 506.3L57.9 507.91L58.5 510L58.83 509.27L59.17 506.37L59.5 505L59.67 505.87L59.83 508.02L60 510L60.4 509.78L60.8 506.5L61.2 506.75L61.6 504.3L61.78 505.69L61.96 506.83L62.14 510.21L62.32 511.44L62.5 512L63.5 510L64.25 511.19L65 513L65.33 511.49L65.67 510.79L66 509L67 507.7L68 510L68.75 507.68L69.5 507L71 505L71.33 506.6L71.67 507.05L72 509L72.33 506.94L72.67 504.39L73 504L73.17 504.1L73.33 506.13L73.5 507.19L73.67 508.28L73.83 509.93L74 512L75.5 512L75.88 513.38L76.25 515.51L76.62 516.16L77 517L77.47 517.55L77.93 520.55L78.4 521.1L79.2 520.06L80 519L80.37 521.44L80.73 523.02L81.1 523.8L83 525L83.5 522.87L84 522L84.33 523.79L84.67 526.34L85 527L85.72 527.11L86.45 528.87L87.18 530.86L87.9 531.9L88.9 532.35L89.9 534.6L91 533L91.5 532.53L92 530L93.1 531.85L94.2 533.36L95.3 533.9L96.65 535.37L98 535L99 535.34L100 537L101 536.25L102 535L103 537.67L104 538L104.67 536.54L105.33 535.98L106 534L106.67 535.67L107.33 536.6L108 538L109 536.75L110 535L111 536.05L112 537L112.67 536.35L113.33 533.19L114 533L114.67 533.37L115.33 535.2L116 537L116.5 534.77L117 535.53L117.5 534.01L118 532L119 532.92L120 535L120.67 534.8L121.33 532.35L122 531L123 533.66L124 534L124.67 533.78L125.33 530.67L126 530L127 531.14L128 533L128.67 532.3L129.33 531.41L130 529L131 531.53L132 532L133 531.02L134 530L135 532.27L136 533L138 532L139 533.63L140 535L141 535.86L142 537L143.5 538.53L145 538L146 540.07L147 540L148.5 540.79L150 541L151.33 542.95L152.67 542.93L154 543L155.33 543.59L156.67 545.37L158 545L159.33 545.54L160.67 545.06L162 546L163.5 546.4L165 546.68L166.5 545.47L168 546.5"/>
<path class="do" d="M36 535L38 534L39.4 538.6L42 535L45 530L48 531L50 526L52 525L54 528L56 522L58 520L60 522L61 518L63 514L66 512L69 509L72 508L75 509L77 506L79 506L80 512L82 517L85 518L88 521L91 525L93 529L96 528L98 526L100 530L104 534L108 536L113 537L118 540L122 541L128 538L134 540L138 539L142 538L146 541L152 542L157 544L162 546L168 546.5"/>
<path class="do2" d="M35.32 534.95L37.3 532.87L39.9 539.38L41.33 535.38L45.41 529.69L48.11 531.21L49.74 525.52L51.56 524.31L53.45 528.38L55.42 522.22L58.39 520.63L60.38 520.98L60.74 518.35L62.93 513.2L66.43 512.32L69.01 508.47L71.4 507.48L74.34 509.72L76.72 506.93L79.39 505.22L80.57 512.96L82.39 517.15L85.21 517.85L87.31 521.69L90.52 525.17L93.22 528.63L96.47 528.49L97.98 527.19L99.97 529.56L103.41 534.93L108.68 536.01L112.58 536.71L118.75 539.39L121.98 542.16L128.01 538L134.49 540.83L137.28 539.47L141.26 538.79L146.69 541.19L151.72 541.88L157.78 543.7L162.55 545.24L168.03 546.3"/>
<g transform="rotate(0.49 34.4 545.8)"><text x="29.44" y="557.7" class="n">.1</text></g>
<g transform="rotate(0.49 90.38 546.12)"><text x="89.46" y="558.12" class="n">1</text></g>
<g transform="rotate(0.49 146.35 546.45)"><text x="141.06" y="558.55" class="n">10</text><circle cx="149.2" cy="555.33" r="0.75" class="zd"/></g>
<g transform="rotate(0.49 202.33 546.78)"><text x="191.37" y="558.98" class="n">100</text><circle cx="199.51" cy="555.76" r="0.75" class="zd"/><circle cx="204.77" cy="555.76" r="0.75" class="zd"/></g>
<g transform="rotate(0.49 258.3 547.1)"><text x="235.58" y="559.4" class="n">1000</text><circle cx="243.72" cy="556.18" r="0.75" class="zd"/><circle cx="248.98" cy="556.18" r="0.75" class="zd"/><circle cx="254.24" cy="556.18" r="0.75" class="zd"/></g>
<g transform="translate(29.3 0) rotate(-90) scale(1 1.15)"><text x="-446.62" y="0" class="n">50</text><circle cx="-438.48" cy="-3.22" r="0.75" class="zd"/></g>
<g transform="translate(27.9 0) rotate(-90) scale(1 1.15)"><text x="-548.83" y="0" class="n">0</text><circle cx="-545.95" cy="-3.22" r="0.75" class="zd"/></g>
<text x="41.25" y="450" class="l" transform="rotate(0.49 41.25 450) translate(0 -31.5) scale(1 1.07)">G</text>
<text x="252.3" y="450.2" class="l" style="font-size:13.08px" text-anchor="end" transform="rotate(0.49 252.3 450.2) translate(0 -31.51) scale(1 1.07)">L1210 Fas<tspan class="sup" dx="1.0" dy="-5.6" style="font-size:10px">-</tspan></text></g>
<g id="pH"><path d="M287.5 436.23L514.2 434.8L515.4 546.2L287.5 546.93M291.7 436.2L291.7 546.9" class="bx"/>
<path d="M287.5 463.9L291.7 463.88M287.5 491.58L291.7 491.55M287.5 519.25L291.7 519.22M291.7 546.9l0.03 4.2M308.54 546.85l0.03 4.2M318.38 546.82l0.03 4.2M325.37 546.79l0.03 4.2M330.79 546.78l0.03 4.2M335.22 546.76l0.03 4.2M338.96 546.75l0.03 4.2M342.21 546.74l0.03 4.2M345.07 546.73l0.03 4.2M347.62 546.72l0.03 4.2M364.46 546.67l0.03 4.2M374.31 546.64l0.03 4.2M381.3 546.62l0.03 4.2M386.71 546.6l0.03 4.2M391.14 546.59l0.03 4.2M394.89 546.58l0.03 4.2M398.13 546.57l0.03 4.2M400.99 546.56l0.03 4.2M403.55 546.55l0.03 4.2M420.39 546.5l0.03 4.2M430.23 546.47l0.03 4.2M437.22 546.44l0.03 4.2M442.64 546.43l0.03 4.2M447.07 546.41l0.03 4.2M450.81 546.4l0.03 4.2M454.06 546.39l0.03 4.2M456.92 546.38l0.03 4.2M459.47 546.38l0.03 4.2M476.31 546.32l0.03 4.2M486.16 546.29l0.03 4.2M493.15 546.27l0.03 4.2M498.56 546.25l0.03 4.2M502.99 546.24l0.03 4.2M506.74 546.23l0.03 4.2M509.98 546.22l0.03 4.2M512.84 546.21l0.03 4.2M515.4 546.2l0.03 4.2" class="tk"/>
<path d="M292.7 471.3L292.7 506.5" class="sp"/>
<path class="so" d="M294 507L294.14 505.03L294.29 504.85L294.43 501.7L294.57 501.42L294.71 500.71L294.86 498.71L295 497L295.33 499.24L295.67 501.1L296 502L297 500.69L298 500L298.21 498.85L298.43 497.12L298.64 495L298.86 495.31L299.07 492.22L299.29 491.5L299.5 490L299.69 488.5L299.87 486.57L300.06 485.07L300.24 485.08L300.43 483.52L300.61 481.71L300.8 480.2L301.04 480.68L301.28 483.48L301.52 484.68L301.76 485.7L302 487L303 488L305 489L305.33 490.84L305.67 491.84L306 494L306.07 496.03L306.14 496.4L306.21 499.24L306.29 499.44L306.36 500.78L306.43 502.55L306.5 504L306.55 503.63L306.6 501.5L306.65 499.41L306.7 498.62L306.75 496.63L306.8 496.06L306.85 495.14L306.9 491.73L306.95 490.39L307 490L308 489L308.25 490.52L308.5 492.35L308.75 492.96L309 495L309.33 497.04L309.67 497.57L310 500L310.33 501.94L310.67 503.51L311 505L311.5 507.3L312 508L312.2 509.87L312.4 510.99L312.6 512.07L312.8 514.06L313 515L313.33 517.03L313.67 518.73L314 520L315 518L316.5 518L316.75 520.21L317 521.21L317.25 522.47L317.5 524L317.75 524.7L318 527.67L318.25 527.66L318.5 530L318.83 527.6L319.17 526.58L319.5 526L321 527L321.33 527.82L321.67 530.51L322 532L324 533L324.33 534.1L324.67 536.68L325 537L326 538.57L327 539L328.5 541L329.25 540.57L330 538L331 539.85L332 540L333.5 540.52L335 539L337 538L338 539.03L339 540L341 540L343 541L344 541.31L345 543L346 544.95L347 545L348.5 545.05L350 544L351.25 545.29L352.5 544.94L353.75 544.63L355 546L356.67 545.4L358.33 545.62L360 546.5"/>
<path class="do" d="M293 545.5L296 546L300 546L303 545.2L306 544.6L310 543.8L314 542.6L317 541L319 538L321 536L323 533L325 530L326 527L327 530L328 535L329 530L330 524L331 518L333 515L335 520L336 510L338 505L339.5 500L341 493L342.5 489L345 485L347 480L349 476L350 473L351 480L353 478L354.5 475L356 479L357 483L359 488L361 492L361.5 498L363 503L364 508L366 513L368 516L369 522L370 527L373 533L376 537L380 540L384 542L388 542L392 543L396 542L400 543L405 544L410 543.5L416 545L422 544.5L428 546"/>
<path class="do2" d="M293.18 544.37L296.32 545.56L299.71 546.84L303.67 545.37L305.63 544.84L309.75 544.51L314.56 541.76L317.39 540.26L319.73 538.27L321.19 535.24L322.26 533.8L325.22 529.91L326.33 527.44L327.36 530.27L327.28 535.71L329.42 530.03L329.71 524.07L330.25 517.33L333.47 515.17L334.61 519.57L336.34 509.79L337.7 505.44L338.72 499.41L341.22 491.8L342.06 488.74L345.14 484.31L346.93 478.9L348.89 476.38L350.79 473.34L350.78 479.53L353.21 478.22L354.89 475.99L355.29 479.58L357.05 483.81L359.3 488.22L361.39 491.88L362.21 496.96L362.44 503.25L364.37 508L366.67 513.84L368.02 515.11L369.77 522.05L370.14 525.89L372.35 532.11L376.73 535.88L380.43 540.32L383.9 543.14L387.39 542.42L392 542.84L396.57 542.57L399.44 543.75L405.15 543.98L410.77 543.93L415.85 545.71L421.53 543.38L428.3 546.71"/>
<g transform="rotate(-0.36 291.7 546.9)"><text x="287.34" y="559.05" class="n">.1</text></g>
<g transform="rotate(-0.36 347.62 546.72)"><text x="347.26" y="558.74" class="n">1</text></g>
<g transform="rotate(-0.36 403.55 546.55)"><text x="398.76" y="558.42" class="n">10</text><circle cx="406.9" cy="555.21" r="0.75" class="zd"/></g>
<g transform="rotate(-0.36 459.47 546.38)"><text x="448.97" y="558.11" class="n">100</text><circle cx="457.11" cy="554.9" r="0.75" class="zd"/><circle cx="462.37" cy="554.9" r="0.75" class="zd"/></g>
<g transform="rotate(-0.36 515.4 546.2)"><text x="493.08" y="557.8" class="n">1000</text><circle cx="501.22" cy="554.58" r="0.75" class="zd"/><circle cx="506.48" cy="554.58" r="0.75" class="zd"/><circle cx="511.74" cy="554.58" r="0.75" class="zd"/></g>
<g transform="translate(285.5 0) rotate(-90) scale(1 1.15)"><text x="-448.02" y="0" class="n">50</text><circle cx="-439.88" cy="-3.22" r="0.75" class="zd"/></g>
<g transform="translate(285.2 0) rotate(-90) scale(1 1.15)"><text x="-549.93" y="0" class="n">0</text><circle cx="-547.05" cy="-3.22" r="0.75" class="zd"/></g>
<text x="301.55" y="451.1" class="l" transform="rotate(-0.36 301.55 451.1) translate(0 -31.58) scale(1 1.07)">H</text>
<text x="508.4" y="448.6" class="l" style="font-size:13.41px" text-anchor="end" transform="rotate(-0.36 508.4 448.6) translate(0 -31.4) scale(1 1.07)">PE-9</text></g>
<g id="pI"><path d="M30.2 579.49L257.1 579.8L257.1 691.2L29.3 690.89M34.4 579.5L33.5 690.9" class="bx"/>
<path d="M29.98 607.34L34.17 607.35M29.75 635.19L33.95 635.2M29.53 663.04L33.73 663.05M33.5 690.9l-0.01 4.2M50.33 690.92l-0.01 4.2M60.17 690.94l-0.01 4.2M67.16 690.95l-0.01 4.2M72.57 690.95l-0.01 4.2M77 690.96l-0.01 4.2M80.74 690.96l-0.01 4.2M83.98 690.97l-0.01 4.2M86.84 690.97l-0.01 4.2M89.4 690.97l-0.01 4.2M106.23 691l-0.01 4.2M116.07 691.01l-0.01 4.2M123.06 691.02l-0.01 4.2M128.47 691.03l-0.01 4.2M132.9 691.03l-0.01 4.2M136.64 691.04l-0.01 4.2M139.88 691.04l-0.01 4.2M142.74 691.05l-0.01 4.2M145.3 691.05l-0.01 4.2M162.13 691.07l-0.01 4.2M171.97 691.09l-0.01 4.2M178.96 691.1l-0.01 4.2M184.37 691.1l-0.01 4.2M188.8 691.11l-0.01 4.2M192.54 691.11l-0.01 4.2M195.78 691.12l-0.01 4.2M198.64 691.12l-0.01 4.2M201.2 691.13l-0.01 4.2M218.03 691.15l-0.01 4.2M227.87 691.16l-0.01 4.2M234.86 691.17l-0.01 4.2M240.27 691.18l-0.01 4.2M244.7 691.18l-0.01 4.2M248.44 691.19l-0.01 4.2M251.68 691.19l-0.01 4.2M254.54 691.2l-0.01 4.2M257.1 691.2l-0.01 4.2" class="tk"/>
<path d="M35.03 625.3L34.67 670" class="sp"/>
<path class="so" d="M36 669L36.38 667.26L36.75 666.72L37.12 666.31L37.5 664L37.83 666.18L38.17 666.46L38.5 668L39 666.71L39.5 665.08L40 664L41 666L41.17 664.14L41.33 662.64L41.5 662.73L41.67 661.21L41.83 658.48L42 658L42.33 655.95L42.67 654.13L43 653L44 651L44.33 653.04L44.67 654.2L45 655L45.2 653.35L45.4 652.69L45.6 650.73L45.8 650.11L46 648L46.5 647.37L47 645L47.33 643.06L47.67 642.71L48 640L48.17 638.1L48.33 638.06L48.5 636L49.5 637L49.88 635.95L50.25 634.67L50.62 633.17L51 632L51.38 629.94L51.75 628.59L52.12 629.06L52.5 627L52.83 625.93L53.17 623.71L53.5 622L53.67 620.02L53.83 618.58L54 618L54.11 617.44L54.22 615.46L54.33 613.96L54.44 611.84L54.56 612.33L54.67 609.15L54.78 609.08L54.89 606.33L55 606L55.08 607.87L55.17 609.58L55.25 609.73L55.33 612L55.42 612.88L55.5 614L56 612.34L56.5 611L56.7 612.37L56.9 613.55L57.1 614.88L57.3 617.24L57.5 618L57.83 619.78L58.17 622.16L58.5 623L58.61 622.07L58.72 621.21L58.83 619.66L58.94 617.85L59.06 617.15L59.17 615.11L59.28 613.91L59.39 612.67L59.5 611L59.83 611.46L60.17 613.35L60.5 615L60.83 616.28L61.17 618.24L61.5 619L61.83 617.74L62.17 616.62L62.5 615L62.67 617.49L62.83 617.64L63 620L63.2 621.04L63.4 622.78L63.6 624.85L63.8 624.68L64 627L64.25 628.75L64.5 629.41L64.75 631.89L65 633L65.33 634.85L65.67 636.36L66 637L66.5 636.15L67 634L67.25 635.77L67.5 637.3L67.75 639.42L68 640L68.2 640.42L68.4 643.26L68.6 643.94L68.8 645.78L69 647L69.33 648.09L69.67 649.46L70 652L70.2 653.01L70.4 654.63L70.6 655.52L70.8 658.15L71 659L71.75 659.77L72.5 662L72.88 663.54L73.25 665.83L73.62 666.81L74 668L74.38 669.61L74.75 669.94L75.12 671.39L75.5 673L75.83 673.92L76.17 675.39L76.5 677L77.25 678.65L78 680L78.5 681.11L79 682.89L79.5 684L80.5 682L82 681L82.5 683.34L83 684L83.75 685.59L84.5 687L85.75 687.67L87 688L88.5 688.69L90 689L91.67 688.13L93.33 689.77L95 689L96.67 689.97L98.33 688.99L100 690"/>
<path class="do" d="M35 689L40 690L45 690L50 689.5L55 689L60 688.5L63 687.5L66.6 686.2L69 684.5L71.2 682.7L73 680.5L74.7 678.1L76.5 673.5L78.2 668.9L80 665.5L81.6 662L83.5 658L85.1 653.9L86.8 651L88.5 648.1L90.8 642.3L93.2 635.4L94.8 632L96.6 629.6L98.3 629.5L100.1 627.3L101.8 625.5L103.5 625L105.2 627.5L107 627.3L108.8 625.5L110.5 626.2L112.2 628.5L113.9 632L115.6 635L117.4 638.9L119.7 645.8L121.5 650.5L123.2 655L125.5 664.3L127.2 669L128.9 673.5L130.6 677L132.4 680.4L135.9 686.2L140.5 688.5L145 689.5"/>
<path class="do2" d="M34.64 690.04L39.39 689.96L44.83 690.05L50.62 689.36L54.69 690.17L59.51 687.52L63.32 687.1L65.96 686.57L69.58 684.86L71.32 683.6L72.85 679.58L75.14 677.61L77.28 673.54L77.71 668.99L79.85 666.28L81.41 662.47L83 656.85L84.53 653.97L87.42 651.38L88.49 647.01L90.5 642.7L93.56 635.58L95.25 632.76L96.14 630.72L98.67 629.71L99.5 627.52L101.24 625.62L103.48 624.98L104.88 627.46L106.44 627.49L109.23 625.9L110.15 625.74L111.66 629.07L113.16 630.9L115.62 634.3L117.62 638.52L119.57 646.06L121.33 649.8L123.44 654.55L125.09 663.43L127.06 668.55L129.43 672.65L130.46 676.17L133.01 679.66L135.31 685.66L140.45 689.61L145.28 690.37"/>
<g transform="rotate(0.08 33.5 690.9)"><text x="29.24" y="702.5" class="n">.1</text></g>
<g transform="rotate(0.08 89.4 690.97)"><text x="89.11" y="702.65" class="n">1</text></g>
<g transform="rotate(0.08 145.3 691.05)"><text x="140.57" y="702.8" class="n">10</text><circle cx="148.71" cy="699.58" r="0.75" class="zd"/></g>
<g transform="rotate(0.08 201.2 691.13)"><text x="190.72" y="702.95" class="n">100</text><circle cx="198.86" cy="699.73" r="0.75" class="zd"/><circle cx="204.12" cy="699.73" r="0.75" class="zd"/></g>
<g transform="rotate(0.08 257.1 691.2)"><text x="234.78" y="703.1" class="n">1000</text><circle cx="242.92" cy="699.88" r="0.75" class="zd"/><circle cx="248.18" cy="699.88" r="0.75" class="zd"/><circle cx="253.44" cy="699.88" r="0.75" class="zd"/></g>
<g transform="translate(28.2 0) rotate(-90) scale(1 1.15)"><text x="-591.32" y="0" class="n">50</text><circle cx="-583.18" cy="-3.22" r="0.75" class="zd"/></g>
<g transform="translate(27 0) rotate(-90) scale(1 1.15)"><text x="-693.93" y="0" class="n">0</text><circle cx="-691.05" cy="-3.22" r="0.75" class="zd"/></g>
<text x="42.55" y="594.75" class="l" transform="rotate(0.08 42.55 594.75) translate(0 -41.63) scale(1 1.07)">I</text>
<text x="252.6" y="592.8" class="l" style="font-size:13.24px" text-anchor="end" transform="rotate(0.08 252.6 592.8) translate(0 -41.5) scale(1 1.07)">LSA&#160; (wt)</text></g>
<g id="pJ"><path d="M284.4 578.32L511.9 577.3L512.5 688.3L284.4 689.82M288.6 578.3L288.6 689.8" class="bx"/>
<path d="M284.4 606.19L288.6 606.17M284.4 634.07L288.6 634.05M284.4 661.94L288.6 661.92M288.6 689.8l0.02 4.2M305.45 689.69l0.02 4.2M315.31 689.62l0.02 4.2M322.3 689.57l0.02 4.2M327.72 689.54l0.02 4.2M332.16 689.51l0.02 4.2M335.9 689.48l0.02 4.2M339.15 689.46l0.02 4.2M342.01 689.44l0.02 4.2M344.58 689.42l0.02 4.2M361.43 689.31l0.02 4.2M371.28 689.25l0.02 4.2M378.28 689.2l0.02 4.2M383.7 689.16l0.02 4.2M388.13 689.13l0.02 4.2M391.88 689.11l0.02 4.2M395.13 689.09l0.02 4.2M397.99 689.07l0.02 4.2M400.55 689.05l0.02 4.2M417.4 688.94l0.02 4.2M427.26 688.87l0.02 4.2M434.25 688.82l0.02 4.2M439.67 688.79l0.02 4.2M444.11 688.76l0.02 4.2M447.85 688.73l0.02 4.2M451.1 688.71l0.02 4.2M453.96 688.69l0.02 4.2M456.52 688.67l0.02 4.2M473.38 688.56l0.02 4.2M483.23 688.5l0.02 4.2M490.23 688.45l0.02 4.2M495.65 688.41l0.02 4.2M500.08 688.38l0.02 4.2M503.83 688.36l0.02 4.2M507.08 688.34l0.02 4.2M509.94 688.32l0.02 4.2M512.5 688.3l0.02 4.2" class="tk"/>
<path d="M289.6 626.7L289.6 669.7" class="sp"/>
<path class="so" d="M290.5 665L292 666L293 668L294.5 666L296 668L296.17 667.71L296.33 664.66L296.5 663.3L296.67 661.95L296.83 661.35L297 660L298 662L298.33 661.14L298.67 659.5L299 657L299.5 658.83L300 660L300.38 657.82L300.75 658.26L301.12 655.76L301.5 655L302 652.31L302.5 652L302.7 650.29L302.9 648.41L303.1 648.41L303.3 647.05L303.5 645L303.7 643.69L303.9 641.05L304.1 640.31L304.3 640.2L304.5 638L305 636.2L305.5 635L306 632.94L306.5 632L306.83 633.88L307.17 634.7L307.5 637L307.67 634.79L307.83 633.81L308 632.56L308.17 631.61L308.33 629.46L308.5 629L308.75 627.66L309 625.27L309.25 623.72L309.5 623L310 622.01L310.5 620L310.83 622.39L311.17 623.98L311.5 625L312 622.82L312.5 622L312.83 623.96L313.17 625.16L313.5 627L313.62 626.12L313.75 624.06L313.88 623.55L314 620.3L314.12 620.86L314.25 619.39L314.38 618.04L314.5 616L315.5 614L315.83 614.46L316.17 616.99L316.5 618L316.83 618.95L317.17 620.17L317.5 622L317.83 620.99L318.17 618.56L318.5 617L318.83 615.35L319.17 612.76L319.5 612L319.67 611.27L319.83 610.24L320 608L320.17 609.43L320.33 611.37L320.5 612L320.7 613.37L320.9 614.23L321.1 617.29L321.3 617.31L321.5 619L321.7 619.49L321.9 622.87L322.1 622.32L322.3 623.49L322.5 626L322.75 626.87L323 628.04L323.25 630.05L323.5 632L323.83 634.52L324.17 635.47L324.5 636L324.62 635.59L324.75 632.92L324.88 632.68L325 630L326 628L326.33 629.7L326.67 631.45L327 633L327.1 633.4L327.2 636.62L327.3 637.3L327.4 639.22L327.5 640L327.64 642.27L327.79 642.02L327.93 643.93L328.07 645.81L328.21 646.15L328.36 649.34L328.5 650L328.75 650.9L329 651.85L329.25 653.73L329.5 656L329.83 657.63L330.17 659.09L330.5 661L330.83 663.29L331.17 662.8L331.5 665L332 665.6L332.5 668.38L333 669L333.33 671.21L333.67 672.57L334 674L334.33 675.28L334.67 676.68L335 678L336 680.33L337 681L338 682.75L339 684L340 684.18L341 686L342.5 687L344 689L345.5 688.71L347 689.98L348.5 689.4L350 689"/>
<path class="do" d="M290 686L293 688L296 685L299 686L303 686L306 685L309 684L311 684L313 682L316 683L318 681L320 680L322 682L324 679L326 678L328 676L330 677L332 679L333.5 676L335 678L337 677L339 679L341 678L344 677L348 678L351 674L353 669L355 664L357 660L358 654L359 650L361 647L362 641L363 636L364 632L365.5 626L366.5 620L368 617L369 613L370 610L371 605L372.5 608L374 613L375 620L376.5 628L378 636L379.5 643L381 649L382.5 654L384 660L385.5 664L387 667L389 671L391 676L393 679L396 682L400 685L404 687L410 688.5"/>
<path class="do2" d="M289.32 685.06L293.24 688.26L295.52 684.78L299.43 686.74L303.33 685.63L305.23 684.34L308.29 683.4L311.29 684.83L313.15 682.58L316.67 682.47L317.27 679.9L319.35 680.39L321.35 681.2L323.81 677.83L326.39 677.88L328.76 676.7L329.89 676.83L331.23 678.71L332.74 676.63L334.68 678.92L336.44 676.61L338.34 679.36L341.67 678.32L344.1 677.3L347.39 679.12L351.31 674.98L353.02 670.1L355.03 664.62L356.71 659.16L358.46 653.28L359.57 650.2L361.01 646.36L361.37 640.12L363.44 636.83L363.71 630.91L364.99 626.97L367.09 619.63L367.92 616.72L369.06 612.4L369.27 609L371.78 605.82L372.61 607.23L373.35 613.74L374.47 618.99L376.78 627.52L378.1 636.75L378.99 642.06L381.55 648.19L382.2 653.98L383.92 659.08L386.17 663.52L387.55 666.62L388.76 672.17L390.89 675.7L393.74 678.7L395.99 681.01L399.77 684.53L404 687.4L410.6 688.29"/>
<g transform="rotate(-0.26 288.6 689.8)"><text x="284.19" y="701.65" class="n">.1</text></g>
<g transform="rotate(-0.26 344.58 689.42)"><text x="344.23" y="701.31" class="n">1</text></g>
<g transform="rotate(-0.26 400.55 689.05)"><text x="395.87" y="700.97" class="n">10</text><circle cx="404.01" cy="697.76" r="0.75" class="zd"/></g>
<g transform="rotate(-0.26 456.52 688.67)"><text x="446.2" y="700.64" class="n">100</text><circle cx="454.34" cy="697.42" r="0.75" class="zd"/><circle cx="459.6" cy="697.42" r="0.75" class="zd"/></g>
<g transform="rotate(-0.26 512.5 688.3)"><text x="490.43" y="700.3" class="n">1000</text><circle cx="498.57" cy="697.08" r="0.75" class="zd"/><circle cx="503.83" cy="697.08" r="0.75" class="zd"/><circle cx="509.09" cy="697.08" r="0.75" class="zd"/></g>
<g transform="translate(282.4 0) rotate(-90) scale(1 1.15)"><text x="-590.12" y="0" class="n">50</text><circle cx="-581.98" cy="-3.22" r="0.75" class="zd"/></g>
<g transform="translate(282.1 0) rotate(-90) scale(1 1.15)"><text x="-692.83" y="0" class="n">0</text><circle cx="-689.95" cy="-3.22" r="0.75" class="zd"/></g>
<text x="295.65" y="593.6" class="l" transform="rotate(-0.26 295.65 593.6) translate(0 -41.55) scale(1 1.07)">J</text>
<text x="505.2" y="591.4" class="l" style="font-size:13.70px" text-anchor="end" transform="rotate(-0.26 505.2 591.4) translate(0 -41.4) scale(1 1.07)">EL-4</text></g>
<text class="t" transform="translate(13.7 400.2) rotate(-90) scale(1.03 1.2)">CELL NUMBER</text>
<text class="t" transform="translate(160.7 724.8) scale(1.01 1.18)">LOG FLUORESCENCE INTENSITY</text>
</svg></body></html>
